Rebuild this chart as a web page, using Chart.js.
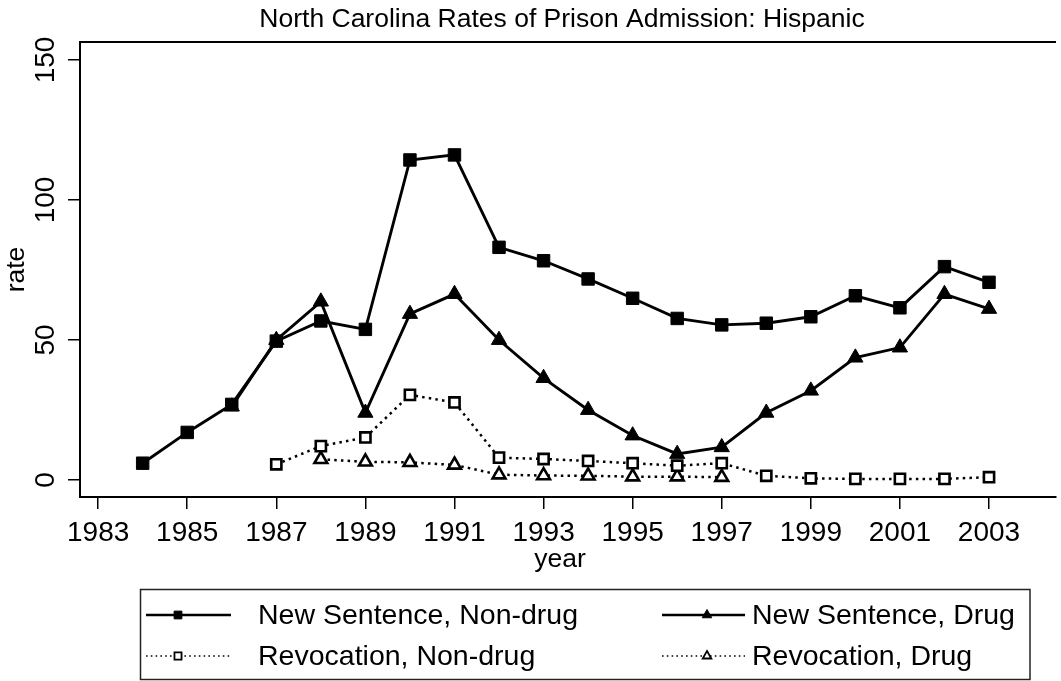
<!DOCTYPE html>
<html><head><meta charset="utf-8">
<script src="https://cdn.jsdelivr.net/npm/chart.js@4.4.0/dist/chart.umd.min.js"></script>
<style>
html,body{margin:0;padding:0;overflow:hidden;background:#fff;}
#c{display:block;width:1066px;height:681px;}
</style></head><body>
<canvas id="c" width="1066" height="681"></canvas>
<script>
// ---- data ----
const years = [1984,1985,1986,1987,1988,1989,1990,1991,1992,1993,1994,1995,1996,1997,1998,1999,2000,2001,2002,2003];
const newSentenceNonDrug = [6,17,27,49.6,56.8,53.8,114.3,116.1,83.1,78.3,71.8,64.9,57.7,55.4,56,58.3,65.8,61.5,76.2,70.6];
const newSentenceDrug = [null,null,26.2,50,63.7,24,59.3,66.4,50,36.4,25,15.9,9.3,11.7,24,31.9,43.7,47.3,66.4,61.1];
const revocationNonDrug = [null,null,null,5.6,12.1,15.2,30.4,27.7,8,7.5,6.8,6,5.1,6,1.5,0.6,0.4,0.4,0.4,1];
const revocationDrug = [null,null,null,null,7.4,6.5,6.3,5.4,1.9,1.6,1.5,1.2,1.2,1.0,null,null,null,null,null,null];
const seriesLabels = ['New Sentence, Non-drug','New Sentence, Drug','Revocation, Non-drug','Revocation, Drug'];
const xTickValues = [1983,1985,1987,1989,1991,1993,1995,1997,1999,2001,2003];
const yTickValues = [0,50,100,150];

const FONT = "'Liberation Sans', Arial, sans-serif";
Chart.defaults.font.family = FONT;
Chart.defaults.color = '#000';

function pts(arr){ return years.map((x,i)=>({x:x, y:arr[i]})).filter(p=>p.y!==null); }

const solid = {borderColor:'#000', borderWidth:2.9, pointBorderColor:'#000', pointBackgroundColor:'#000', pointBorderWidth:1};
const dotted = {borderColor:'#000', borderWidth:2.5, borderDash:[2.5,4.2], pointBorderColor:'#000', pointBackgroundColor:'#fff', pointBorderWidth:2.6};

const datasets = [
  Object.assign({label:seriesLabels[0], data:pts(newSentenceNonDrug), pointStyle:'rect', pointRadius:8.8, legendRadius:5.5}, solid),
  Object.assign({label:seriesLabels[1], data:pts(newSentenceDrug), pointStyle:'triangle', pointRadius:8.8, legendRadius:5.5}, solid),
  Object.assign({label:seriesLabels[2], data:pts(revocationNonDrug), pointStyle:'rect', pointRadius:7.2, legendRadius:5}, dotted),
  Object.assign({label:seriesLabels[3], data:pts(revocationDrug), pointStyle:'triangle', pointRadius:7.4, pointBorderWidth:2.3, legendRadius:5}, dotted)
];

const framePlugin = {
  id:'frameTop',
  afterLayout(chart){
    if (chart.titleBlock) { chart.titleBlock.left = 44; chart.titleBlock.right = 1080; }
    const xs = chart.scales.x;
    if (xs && !xs._titleShifted) {
      const orig = xs.drawTitle.bind(xs);
      xs.drawTitle = function(){ const l=this.left, r=this.right; this.left = l - 8; this.right = r - 8; orig(); this.left = l; this.right = r; };
      xs._titleShifted = true;
    }
  },
  beforeDatasetsDraw(chart){
    const {ctx, chartArea:a} = chart;
    ctx.save();
    ctx.strokeStyle='#000'; ctx.lineWidth=2;
    ctx.beginPath(); ctx.moveTo(a.left, a.top); ctx.lineTo(a.right, a.top); ctx.stroke();
    ctx.restore();
  }
};

const legendPlugin = {
  id:'boxLegend',
  afterDraw(chart){
    const ctx = chart.ctx;
    ctx.save();
    ctx.strokeStyle='#222'; ctx.lineWidth=1.5;
    ctx.strokeRect(140.5, 589.5, 889.5, 90);
    const cols = [{x1:146, x2:231, mx:178, tx:258},{x1:662, x2:745, mx:707, tx:752}];
    const rows = [615, 656];
    chart.data.datasets.forEach((ds,i)=>{
      const c = cols[i%2], y = rows[Math.floor(i/2)];
      ctx.save();
      ctx.strokeStyle='#000';
      ctx.lineWidth = ds.borderDash ? 1.6 : 2.4;
      ctx.setLineDash(ds.borderDash ? [1.6,3.2] : []);
      ctx.beginPath(); ctx.moveTo(c.x1,y); ctx.lineTo(c.x2,y); ctx.stroke();
      ctx.setLineDash([]);
      ctx.fillStyle = ds.pointBackgroundColor; ctx.strokeStyle = ds.pointBorderColor;
      ctx.lineWidth = ds.borderDash ? 1.8 : 1;
      Chart.helpers.drawPoint(ctx, {pointStyle:ds.pointStyle, rotation:0, radius:ds.legendRadius, borderWidth:ctx.lineWidth}, c.mx, y);
      ctx.restore();
      ctx.fillStyle='#000';
      ctx.font = "28.5px " + FONT;
      ctx.textBaseline='middle'; ctx.textAlign='left';
      ctx.fillText(ds.label, c.tx, y+1);
    });
    ctx.restore();
  }
};

new Chart(document.getElementById('c'), {
  type:'line',
  data:{datasets:datasets},
  plugins:[framePlugin, legendPlugin],
  options:{
    responsive:false, maintainAspectRatio:false, animation:false, devicePixelRatio:1,
    layout:{padding:{left:0,right:0,top:0,bottom:0}},
    plugins:{
      legend:{display:false}, tooltip:{enabled:false},
      title:{display:true, text:'North Carolina Rates of Prison Admission: Hispanic', fullSize:false, color:'#000',
        font:{family:FONT, size:26.5, weight:'normal', lineHeight:1.2}, padding:{top:4,bottom:6.2}}
    },
    scales:{
      x:{type:'linear', min:1982.593, max:2004.504,
        afterBuildTicks:s=>{s.ticks = xTickValues.map(v=>({value:v}));},
        afterFit:s=>{s.height = 184;},
        ticks:{autoSkip:false, minRotation:0, maxRotation:0, padding:7, color:'#000', font:{size:28}, callback:v=>String(v)},
        grid:{drawOnChartArea:false, drawTicks:true, tickLength:12, color:'#000', lineWidth:1.5},
        border:{display:true, color:'#000', width:2},
        title:{display:true, text:'year', color:'#000', font:{size:26.5, lineHeight:1.2}, padding:{top:0,bottom:105}}
      },
      y:{type:'linear', min:-6.07, max:156.43,
        afterBuildTicks:s=>{s.ticks = yTickValues.map(v=>({value:v}));},
        afterFit:s=>{s.width = 80;},
        ticks:{minRotation:90, maxRotation:90, crossAlign:'center', padding:-2, color:'#000', font:{size:28}, callback:v=>String(v)},
        grid:{drawOnChartArea:false, drawTicks:true, tickLength:12, color:'#000', lineWidth:1.5},
        border:{display:true, color:'#000', width:2},
        title:{display:true, text:'rate', color:'#000', font:{size:26.5, lineHeight:1.2}, padding:{top:1,bottom:0}}
      }
    }
  }
});
</script>
</body></html>
